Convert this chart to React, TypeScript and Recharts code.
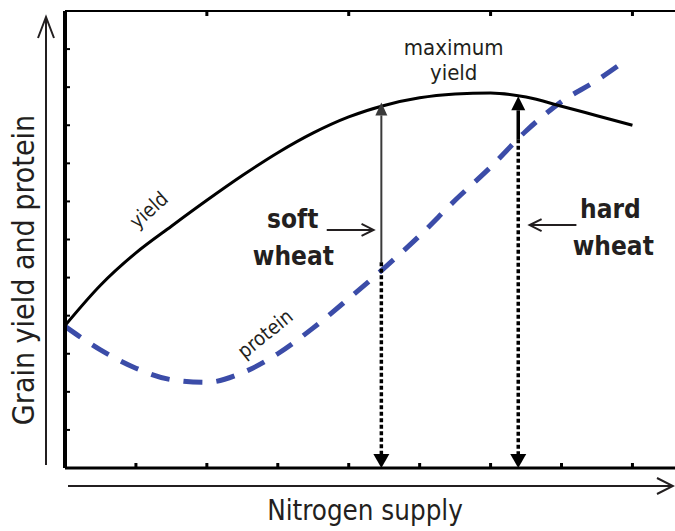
import React from "react";
import {
  ComposedChart,
  Customized,
  Line,
  ReferenceDot,
  ReferenceLine,
  XAxis,
  YAxis,
} from "recharts";

// nitrogen supply (x) and the two response curves
const yieldNitrogen = [0, 0.5, 1, 1.5, 2, 2.5, 3, 3.5, 4, 4.5, 5, 5.5, 6, 6.5, 7, 7.5, 8];
const yieldValues = [3.74, 4.8, 5.65, 6.35, 7.03, 7.68, 8.28, 8.8, 9.22, 9.52, 9.72, 9.82, 9.85, 9.74, 9.5, 9.25, 9.0];

const proteinNitrogen = [0, 0.5, 1, 1.5, 2, 2.5, 3, 3.5, 4, 4.5, 5, 5.5, 6, 6.5, 7, 7.5, 7.85];
const proteinValues = [3.72, 3.1, 2.62, 2.32, 2.25, 2.5, 3.0, 3.68, 4.45, 5.25, 6.1, 7.03, 7.9, 8.85, 9.62, 10.18, 10.63];

const bottomTicks = [1, 2, 3, 4, 5, 6, 7, 8];
const topTicks = [2, 4, 6, 8];
const leftTicks = [1, 2, 3, 4, 5, 6, 7, 8, 9, 10, 11];

// annotation anchors in data units
const softWheat = { x: 4.46, top: 9.6, split: 5.4 };
const hardWheat = { x: 6.39, top: 9.76, split: 8.63 };
const softPointer = { from: 3.69, to: 4.35, y: 6.25 };
const hardPointer = { from: 7.21, to: 6.55, y: 6.38 };

const yieldData = yieldNitrogen.map((x, i) => ({ x, v: yieldValues[i] }));
const proteinData = proteinNitrogen.map((x, i) => ({ x, v: proteinValues[i] }));

const FONT = "'DejaVu Sans Condensed', 'Liberation Sans Narrow', Roboto, sans-serif";
const INK = "#231f20";
const BLUE = "#3b4ca8";

type ArrowOpts = { color: string; width: number; dash?: string; head: "solid" | "open"; len: number; half: number };

const arrowShape = (o: ArrowOpts) => (p: any) => {
  const { x1, y1, x2, y2 } = p;
  const dx = x2 - x1;
  const dy = y2 - y1;
  const d = Math.hypot(dx, dy) || 1;
  const ux = dx / d;
  const uy = dy / d;
  const bx = x2 - ux * o.len;
  const by = y2 - uy * o.len;
  const px = -uy * o.half;
  const py = ux * o.half;
  return (
    <g>
      <line
        x1={x1}
        y1={y1}
        x2={o.head === "solid" ? bx : x2}
        y2={o.head === "solid" ? by : y2}
        stroke={o.color}
        strokeWidth={o.width}
        strokeDasharray={o.dash}
      />
      {o.head === "solid" ? (
        <polygon points={`${x2},${y2} ${bx + px},${by + py} ${bx - px},${by - py}`} fill={o.color} />
      ) : (
        <polyline
          points={`${bx + px},${by + py} ${x2},${y2} ${bx - px},${by - py}`}
          fill="none"
          stroke={o.color}
          strokeWidth={o.width}
        />
      )}
    </g>
  );
};

const textShape =
  (text: string, size: number, weight = 400, angle = 0, baseline: "alphabetic" | "central" = "alphabetic") =>
  (p: any) => (
    <text
      x={p.cx}
      y={p.cy}
      textAnchor="middle"
      dominantBaseline={baseline}
      fontFamily={FONT}
      fontSize={size}
      fontWeight={weight}
      fill={INK}
      transform={angle ? `rotate(${angle}, ${p.cx}, ${p.cy})` : undefined}
    >
      {text}
    </text>
  );

// tick marks only, no tick labels
const noLabel = () => <g />;

// outer axis arrows and axis titles, outside the plot frame
const Decorations = () => (
  <g>
    <line x1={46} y1={465} x2={46} y2={18} stroke={INK} strokeWidth={2} />
    <polyline points="38,38 46,17 54,38" fill="none" stroke={INK} strokeWidth={2} />
    <line x1={68} y1={486} x2={672} y2={486} stroke={INK} strokeWidth={2} />
    <polyline points="657,478 673,486 657,494" fill="none" stroke={INK} strokeWidth={2} />
    <text
      transform="translate(34, 270) rotate(-90)"
      textAnchor="middle"
      fontFamily={FONT}
      fontSize={30}
      fill={INK}
    >
      Grain yield and protein
    </text>
    <text x={365} y={520} textAnchor="middle" fontFamily={FONT} fontSize={27.5} fill={INK}>
      Nitrogen supply
    </text>
  </g>
);

export default function App() {
  return (
    <div style={{ position: "absolute", left: 0, top: 0, background: "#fff" }}>
      <ComposedChart width={675} height={531} margin={{ top: 11, right: 0, bottom: 63, left: 65 }}>
        <XAxis
          type="number"
          dataKey="x"
          domain={[0, 8.6]}
          allowDataOverflow
          ticks={bottomTicks}
          height={1}
          mirror
          tick={noLabel}
          tickSize={5}
          axisLine={{ stroke: "#000", strokeWidth: 3 }}
          tickLine={{ stroke: "#000", strokeWidth: 3 }}
        />
        <XAxis
          xAxisId="top"
          orientation="top"
          type="number"
          dataKey="x"
          domain={[0, 8.6]}
          allowDataOverflow
          ticks={topTicks}
          height={1}
          mirror
          tick={noLabel}
          tickSize={5}
          axisLine={{ stroke: "#000", strokeWidth: 2 }}
          tickLine={{ stroke: "#000", strokeWidth: 3 }}
        />
        <YAxis
          type="number"
          domain={[0, 12]}
          allowDataOverflow
          ticks={leftTicks}
          width={1}
          mirror
          tick={noLabel}
          tickSize={5}
          axisLine={{ stroke: "#000", strokeWidth: 4 }}
          tickLine={{ stroke: "#000", strokeWidth: 2 }}
        />

        <Line
          data={proteinData}
          dataKey="v"
          type="monotone"
          stroke={BLUE}
          strokeWidth={5}
          strokeDasharray="19 14"
          dot={false}
          activeDot={false}
          isAnimationActive={false}
        />
        <Line
          data={yieldData}
          dataKey="v"
          type="monotone"
          stroke="#000"
          strokeWidth={3}
          dot={false}
          activeDot={false}
          isAnimationActive={false}
        />

        {/* soft wheat: protein-to-yield gap and drop to the axis */}
        <ReferenceLine
          segment={[{ x: softWheat.x, y: softWheat.split }, { x: softWheat.x, y: softWheat.top }]}
          shape={arrowShape({ color: "#3a3a3a", width: 2, head: "solid", len: 13, half: 6 })}
        />
        <ReferenceLine
          segment={[{ x: softWheat.x, y: softWheat.split }, { x: softWheat.x, y: 0 }]}
          shape={arrowShape({ color: "#000", width: 3.5, dash: "4 2.5", head: "solid", len: 14, half: 8 })}
        />
        {/* hard wheat */}
        <ReferenceLine
          segment={[{ x: hardWheat.x, y: hardWheat.split }, { x: hardWheat.x, y: hardWheat.top }]}
          shape={arrowShape({ color: "#000", width: 3.5, head: "solid", len: 14, half: 7 })}
        />
        <ReferenceLine
          segment={[{ x: hardWheat.x, y: hardWheat.split }, { x: hardWheat.x, y: 0 }]}
          shape={arrowShape({ color: "#000", width: 3.5, dash: "4 2.5", head: "solid", len: 14, half: 8 })}
        />
        {/* pointers from the labels */}
        <ReferenceLine
          segment={[{ x: softPointer.from, y: softPointer.y }, { x: softPointer.to, y: softPointer.y }]}
          shape={arrowShape({ color: INK, width: 2, head: "open", len: 12, half: 6 })}
        />
        <ReferenceLine
          segment={[{ x: hardPointer.from, y: hardPointer.y }, { x: hardPointer.to, y: hardPointer.y }]}
          shape={arrowShape({ color: INK, width: 2, head: "open", len: 12, half: 6 })}
        />

        <ReferenceDot x={5.48} y={10.84} r={1} shape={textShape("maximum", 22)} />
        <ReferenceDot x={5.48} y={10.18} r={1} shape={textShape("yield", 22)} />
        <ReferenceDot x={3.21} y={6.3} r={1} shape={textShape("soft", 26, 700)} />
        <ReferenceDot x={3.22} y={5.33} r={1} shape={textShape("wheat", 26, 700)} />
        <ReferenceDot x={7.69} y={6.57} r={1} shape={textShape("hard", 26, 700)} />
        <ReferenceDot x={7.73} y={5.59} r={1} shape={textShape("wheat", 26, 700)} />
        <ReferenceDot x={1.18} y={6.78} r={1} shape={textShape("yield", 20, 400, -42, "central")} />
        <ReferenceDot x={2.82} y={3.53} r={1} shape={textShape("protein", 20, 400, -39, "central")} />

        <Customized component={Decorations} />
      </ComposedChart>
    </div>
  );
}
